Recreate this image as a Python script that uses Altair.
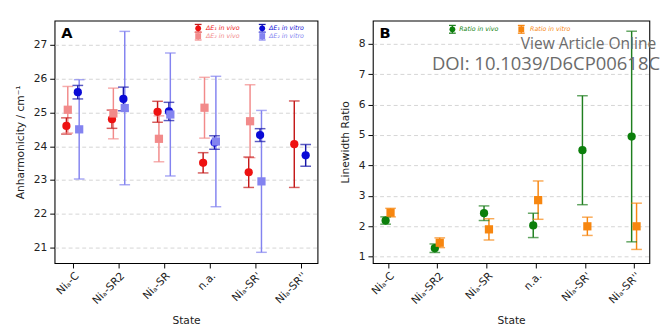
import altair as alt
import pandas as pd

states = ["Niₐ-C", "Niₐ-SR2", "Niₐ-SR", "n.a.", "Niₐ-SR'", "Niₐ-SR''"]

# Panel A: anharmonicity / cm^-1 (value, symmetric error)
de1_vivo = [24.60, 24.80, 25.02, 23.51, 23.23, 24.06]
de1_vivo_err = [0.24, 0.27, 0.31, 0.30, 0.45, 1.28]
de2_vivo = [25.08, 24.97, 24.22, 25.14, 24.74, None]
de2_vivo_err = [0.69, 0.75, 0.68, 0.90, 1.08, None]
de1_vitro = [25.60, 25.40, 25.03, 24.11, 24.33, 23.73]
de1_vitro_err = [0.20, 0.35, 0.27, 0.20, 0.19, 0.32]
de2_vitro = [24.50, 25.13, 24.94, 24.14, 22.96, None]
de2_vitro_err = [1.47, 2.27, 1.82, 1.93, 2.10, None]

# Panel B: linewidth ratio
ratio_vivo = [2.19, 1.28, 2.43, 2.03, 4.50, 4.95]
ratio_vivo_err = [0.12, 0.14, 0.24, 0.40, 1.79, 3.46]
ratio_vitro = [2.45, 1.46, 1.90, 2.86, 2.00, 2.00]
ratio_vitro_err = [0.14, 0.16, 0.35, 0.63, 0.30, 0.76]

a_ticks = [21, 22, 23, 24, 25, 26, 27]
b_ticks = [1, 2, 3, 4, 5, 6, 7, 8]

A_NAMES = ["ΔE₁ in vivo", "ΔE₂ in vivo", "ΔE₁ in vitro", "ΔE₂ in vitro"]
B_NAMES = ["Ratio in vivo", "Ratio in vitro"]


def build(names, vals, errs):
    out = []
    for name, vv, ee in zip(names, vals, errs):
        for i, (v, e) in enumerate(zip(vv, ee)):
            if v is None:
                continue
            out.append({"series": name, "idx": i, "value": v, "err": e})
    return pd.DataFrame(out)


dfA = build(A_NAMES, [de1_vivo, de2_vivo, de1_vitro, de2_vitro],
            [de1_vivo_err, de2_vivo_err, de1_vitro_err, de2_vitro_err])
dfB = build(B_NAMES, [ratio_vivo, ratio_vitro], [ratio_vivo_err, ratio_vitro_err])

label_expr = "[" + ",".join("'" + s.replace("'", "\\'") + "'" for s in states) + "][round(datum.value)]"
one = pd.DataFrame({"k": [0]})


def panel(df, names, offsets, mcolors, bcolors, shapes, ydom, yticks, xdom,
          ytitle, w, h, letter, legend, extras):
    off_expr = "{" + ",".join("'%s': %s" % (n, o) for n, o in zip(names, offsets)) + "}[datum.series]"
    base = alt.Chart(df).transform_calculate(
        x="datum.idx + " + off_expr,
        lo="datum.value - datum.err",
        hi="datum.value + datum.err",
    )
    xs = alt.Scale(domain=xdom, nice=False, zero=False)
    xa = alt.Axis(values=list(range(len(states))), labelExpr=label_expr, title="State",
                  grid=False, labelAngle=-45, labelAlign="right", labelBaseline="top",
                  labelPadding=2, titlePadding=9)
    ys = alt.Scale(domain=ydom, nice=False, zero=False)
    ya = alt.Axis(values=yticks, title=ytitle, grid=True, gridDash=[4, 3],
                  gridColor="#c8c8c8", gridWidth=0.8, labelPadding=3, titlePadding=8)

    def X():
        return alt.X("x:Q", scale=xs, axis=xa)

    def Y(f):
        return alt.Y(f, scale=ys, axis=ya)

    bcol = alt.Color("series:N", scale=alt.Scale(domain=names, range=bcolors), legend=None)
    mcol = alt.Color("series:N", scale=alt.Scale(domain=names, range=mcolors), legend=None)
    shp = alt.Shape("series:N", scale=alt.Scale(domain=names, range=shapes), legend=None)

    rule = base.mark_rule(strokeWidth=1.5).encode(x=X(), y=Y("lo:Q"), y2="hi:Q", color=bcol)
    cap_lo = base.mark_tick(orient="horizontal", size=11, thickness=1.5).encode(
        x=X(), y=Y("lo:Q"), color=bcol)
    cap_hi = base.mark_tick(orient="horizontal", size=11, thickness=1.5).encode(
        x=X(), y=Y("hi:Q"), color=bcol)
    pts = base.mark_point(filled=True, opacity=1, size=72).encode(
        x=X(), y=Y("value:Q"), color=mcol, shape=shp)

    layers = [rule, cap_lo, cap_hi, pts]
    layers.append(alt.Chart(one).mark_text(align="left", baseline="middle", fontSize=15,
                                           fontWeight="bold", font="DejaVu Sans", color="black")
                  .encode(x=alt.value(7), y=alt.value(13), text=alt.value(letter)))
    for (name, cx, cy, tx, shape, mc, bc, tc) in legend:
        layers.append(alt.Chart(one).mark_rule(color=bc, strokeWidth=1.3).encode(
            x=alt.value(cx), y=alt.value(cy - 4), y2=alt.value(cy + 4)))
        layers.append(alt.Chart(one).mark_rule(color=bc, strokeWidth=1.3).encode(
            x=alt.value(cx - 3.5), x2=alt.value(cx + 3.5), y=alt.value(cy - 4)))
        layers.append(alt.Chart(one).mark_rule(color=bc, strokeWidth=1.3).encode(
            x=alt.value(cx - 3.5), x2=alt.value(cx + 3.5), y=alt.value(cy + 4)))
        layers.append(alt.Chart(one).mark_point(filled=True, opacity=1, size=36, shape=shape,
                                                color=mc).encode(
            x=alt.value(cx), y=alt.value(cy)))
        layers.append(alt.Chart(one).mark_text(align="left", baseline="middle", fontSize=6.5,
                                               fontStyle="italic", font="DejaVu Sans",
                                               color=tc).encode(
            x=alt.value(tx), y=alt.value(cy), text=alt.value(name)))
    layers += extras
    return alt.layer(*layers).resolve_scale(color="independent", shape="independent").properties(
        width=w, height=h)


red, red_bar = "#ee1111", "#c41a1a"
lred = "#f28a8a"
blue, blue_bar = "#0a0ad6", "#1616a8"
lblue = "#8383f0"
green, green_bar = "#0b7f0b", "#1f7f1f"
orange = "#f7860f"

legA = [
    (A_NAMES[0], 148, 8, 156, "circle", red, red_bar, red),
    (A_NAMES[1], 148, 16, 156, "square", lred, lred, lred),
    (A_NAMES[2], 214, 8, 221, "circle", blue, blue_bar, blue),
    (A_NAMES[3], 214, 16, 221, "square", lblue, lblue, lblue),
]
legB = [
    (B_NAMES[0], 82, 9, 89, "circle", green, green_bar, green),
    (B_NAMES[1], 153, 9, 162, "square", orange, orange, orange),
]

watermark = [
    alt.Chart(one).mark_text(align="right", baseline="middle", fontSize=16, font="Open Sans",
                             color="#6b6b6b").encode(
        x=alt.value(292), y=alt.value(24), text=alt.value("View Article Online")),
    alt.Chart(one).mark_text(align="right", baseline="middle", fontSize=19, font="Open Sans",
                             color="#6b6b6b").encode(
        x=alt.value(296), y=alt.value(45), text=alt.value("DOI: 10.1039/D6CP00618C")),
]

chartA = panel(dfA, A_NAMES, [-0.14, -0.11, 0.11, 0.14],
               [red, lred, blue, lblue], [red_bar, lred, blue_bar, lblue],
               ["circle", "square", "circle", "square"],
               [20.54, 27.72], a_ticks, [-0.40, 5.37],
               "Anharmonicity / cm⁻¹", 271, 250, "A", legA, [])
chartB = panel(dfB, B_NAMES, [-0.05, 0.05],
               [green, orange], [green_bar, orange], ["circle", "square"],
               [0.79, 8.76], b_ticks, [-0.31, 5.31],
               "Linewidth Ratio", 285, 250, "B", legB, watermark)

chart = alt.hconcat(chartA, chartB, spacing=21).properties(
    padding={"left": 6, "top": 7, "right": 0, "bottom": 0}
).configure_view(stroke="black", strokeWidth=1.1).configure_axis(
    domain=False, tickColor="black", tickSize=5, labelColor="#222", titleColor="#222",
    labelFont="DejaVu Sans", titleFont="DejaVu Sans", labelFontSize=11, titleFontSize=11,
    titleFontWeight="normal"
)

chart.save("out.html", embed_options={"renderer": "svg", "actions": False})
